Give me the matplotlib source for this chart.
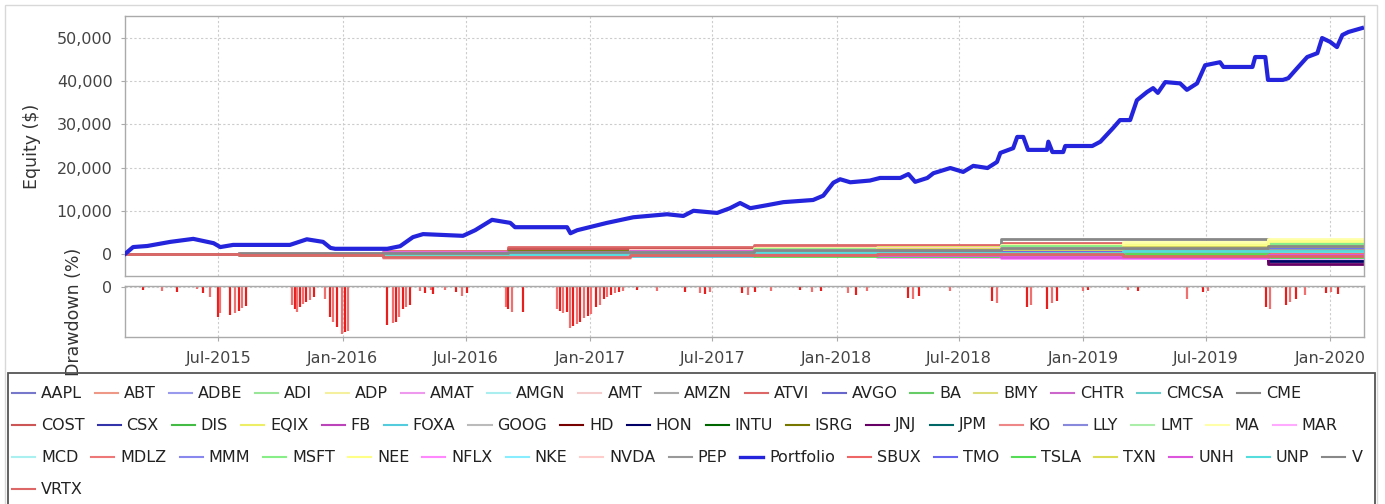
import numpy as np
import pandas as pd
import matplotlib
matplotlib.use("Agg")
import matplotlib.pyplot as plt
import matplotlib.dates as mdates
from matplotlib.lines import Line2D
from matplotlib.patches import Rectangle
from matplotlib.ticker import FuncFormatter

plt.rcParams['font.family'] = ['DejaVu Sans']

# === Данные: портфель ===
portfolio_dates = [
    "2015-02-13", "2015-02-25", "2015-03-18", "2015-04-21", "2015-05-25", "2015-06-24",
    "2015-07-04", "2015-07-23", "2015-10-15", "2015-11-09", "2015-12-03", "2015-12-14",
    "2015-12-21", "2016-03-07", "2016-03-26", "2016-04-14", "2016-04-29", "2016-06-27",
    "2016-07-15", "2016-08-09", "2016-09-05", "2016-09-12", "2016-11-28", "2016-12-03",
    "2016-12-13", "2017-01-26", "2017-03-06", "2017-04-25", "2017-05-19", "2017-06-03",
    "2017-07-08", "2017-07-27", "2017-08-11", "2017-08-26", "2017-09-20", "2017-10-14",
    "2017-11-27", "2017-12-12", "2017-12-27", "2018-01-06", "2018-01-21", "2018-02-19",
    "2018-03-06", "2018-04-05", "2018-04-17", "2018-04-27", "2018-05-15", "2018-05-24",
    "2018-06-18", "2018-07-07", "2018-07-22", "2018-08-12", "2018-08-26", "2018-08-31",
    "2018-09-19", "2018-09-25", "2018-10-04", "2018-10-11", "2018-11-08", "2018-11-10",
    "2018-11-16", "2018-12-02", "2018-12-05", "2019-01-14", "2019-01-26", "2019-02-14",
    "2019-02-24", "2019-03-11", "2019-03-21", "2019-04-05", "2019-04-14", "2019-04-21",
    "2019-05-02", "2019-05-24", "2019-06-03", "2019-06-18", "2019-06-30", "2019-07-22",
    "2019-07-27", "2019-09-08", "2019-09-12", "2019-09-27", "2019-10-01", "2019-10-23",
    "2019-10-31", "2019-11-13", "2019-11-28", "2019-12-13", "2019-12-20", "2020-01-01",
    "2020-01-11", "2020-01-19", "2020-01-28", "2020-02-17",
]
portfolio_values = [
    0, 1600, 1850, 2800, 3500, 2500,
    1600, 2100, 2100, 3400, 2800, 1400,
    1200, 1200, 1800, 3900, 4600, 4200,
    5500, 7900, 7200, 6200, 6200, 4800,
    5500, 7200, 8500, 9200, 8800, 10000,
    9500, 10600, 11800, 10600, 11300, 12000,
    12500, 13500, 16500, 17300, 16600, 17000,
    17600, 17600, 18500, 16700, 17600, 18700,
    19900, 19000, 20400, 19900, 21300, 23400,
    24500, 27100, 27100, 24100, 24100, 26000,
    23600, 23600, 25000, 25000, 26000, 29200,
    31000, 31000, 35600, 37500, 38400, 37300,
    39800, 39500, 38000, 39500, 43700, 44400,
    43300, 43300, 45600, 45600, 40300, 40300,
    40700, 43000, 45600, 46500, 50000, 49100,
    47900, 50700, 51400, 52300,
]

# === Данные: отдельные акции (ступенчатые кривые) ===
stock_dates = ["2015-02-13", "2015-08-01", "2016-03-01", "2016-09-01", "2017-03-01",
               "2017-09-01", "2018-03-01", "2018-09-01", "2019-03-01", "2019-10-01",
               "2020-02-20"]
aapl = [0, 200, 400, 400, 600, 600, 900, 1200, 1200, 1800, 1800]
abt = [0, 0, 300, 300, 500, 800, 800, 1000, 1300, 1300, 1300]
adbe = [0, 100, 100, 400, 700, 700, 1100, 1500, 1500, 2100, 2100]
adi = [0, -100, -300, -300, 0, 200, 200, -200, -200, 300, 300]
adp = [0, 200, 200, 600, 600, 1000, 1000, 1400, 1400, 1400, 1400]
amat = [0, -200, -500, 100, 600, 600, 300, -300, -300, 200, 200]
amgn = [0, 100, -200, -200, 200, 200, -300, -300, -800, -800, -800]
amt = [0, 0, -900, -900, -300, -300, 200, 200, 700, 700, 700]
amzn = [0, 300, 300, 500, 900, 900, 1700, 1700, 1200, 1200, 1200]
atvi = [0, 300, 600, 1600, 1600, 2100, 2100, 2500, 1700, 900, 900]
avgo = [0, 100, -300, 200, 700, 700, 1300, 1300, 1900, 1900, 1900]
ba = [0, 200, 200, 0, 500, 1100, 1100, 600, 600, 1000, 1000]
bmy = [0, 0, 200, 200, -100, -100, 400, 400, 800, 1500, 1500]
chtr = [0, -100, -100, 300, 300, -200, -200, -700, -700, 0, 0]
cmcsa = [0, 100, 300, 300, 700, 700, 700, 1100, 1100, 1600, 1600]
cme = [0, 0, 400, 400, 800, 800, 1500, 3500, 3500, 2700, 2700]
cost = [0, 0, 200, 1200, 1200, 1400, 1400, 1900, 1900, 2300, 2300]
csx = [0, -100, -400, -400, 100, 500, 500, 900, 900, 600, 600]
dis = [0, 200, 0, 0, -300, -300, 200, 200, 500, 500, 500]
eqix = [0, 100, 500, 500, 1000, 1000, 1600, 1600, 2200, 3200, 3200]
fb = [0, 0, 0, 500, 500, 700, -300, -800, -900, -500, -500]
foxa = [0, -200, -200, -500, -500, -100, -100, -600, -600, -1100, -1100]
goog = [0, 200, 200, 600, 600, 900, 900, 700, 700, 1200, 1200]
hd = [0, 100, 300, 300, 800, 800, 1200, 1200, 1700, 1700, 1700]
hon = [0, 0, -200, -200, 200, 200, 500, 500, 500, -1600, -1600]
intu = [0, 100, 100, 400, 400, 800, 800, 1300, 1300, 2000, 2000]
isrg = [0, 0, 300, 700, 700, 1200, 1200, 1800, 1800, 2200, 2200]
jnj = [0, -100, -100, -300, -300, 0, 0, -400, -400, -2300, -2300]
jpm = [0, 200, 200, 500, 500, 900, 900, 1600, 1600, 2500, 2500]
ko = [0, 0, -200, -200, 0, 0, 300, 300, -200, -200, -200]
lly = [0, 100, 100, -200, -200, 300, 300, 600, 600, 1100, 1100]
lmt = [0, 200, 500, 500, 900, 900, 1400, 1400, 2000, 2000, 2000]
ma = [0, 100, 400, 400, 900, 1300, 1300, 2000, 2800, 3500, 3500]
mar = [0, 0, -300, -300, 100, 100, -500, -500, -1000, -1000, -1000]
mcd = [0, 100, 100, 300, 300, 600, 600, 1000, 1000, 1300, 1300]
mdlz = [0, -100, -100, 100, 100, -300, -300, 0, 0, 400, 400]
mmm = [0, 200, 200, 500, 800, 800, 400, 400, -100, -100, -100]
msft = [0, 100, 300, 300, 800, 1200, 1200, 1800, 1800, 2600, 2600]
nee = [0, 0, 300, 300, 700, 700, 1200, 1200, 2000, 3000, 3000]
nflx = [0, 200, -400, -400, 300, 300, -600, -1000, -1000, -700, -700]
nke = [0, 100, 100, -100, -100, 200, 200, -100, -100, 500, 500]
nvda = [0, 300, -600, 200, 900, 900, 1400, 1400, 300, 300, 300]
pep = [0, 0, 200, 200, 400, 400, 600, 600, 900, 900, 900]
sbux = [0, -100, -100, 300, 300, 0, 0, 400, 400, 100, 100]
tmo = [0, 100, 300, 300, 600, 600, 1000, 1000, 1500, 1500, 1500]
tsla = [0, -300, -300, 200, 200, -400, -400, 100, 100, -600, -600]
txn = [0, 100, 100, 400, 600, 600, 1100, 1100, 1500, 1900, 1900]
unh = [0, 100, 400, 400, 700, 700, -200, -800, -800, -300, -300]
unp = [0, -100, -100, 100, 400, 400, 200, 200, 600, 600, 600]
v = [0, 200, 200, 500, 500, 900, 900, 1400, 1400, 1900, 1900]
vrtx = [0, -200, -700, -700, -300, -300, 100, 100, -400, -400, -400]

legend_names = ["AAPL", "ABT", "ADBE", "ADI", "ADP", "AMAT", "AMGN", "AMT", "AMZN", "ATVI",
                "AVGO", "BA", "BMY", "CHTR", "CMCSA", "CME", "COST", "CSX", "DIS", "EQIX",
                "FB", "FOXA", "GOOG", "HD", "HON", "INTU", "ISRG", "JNJ", "JPM", "KO", "LLY",
                "LMT", "MA", "MAR", "MCD", "MDLZ", "MMM", "MSFT", "NEE", "NFLX", "NKE",
                "NVDA", "PEP", "Portfolio", "SBUX", "TMO", "TSLA", "TXN", "UNH", "UNP", "V",
                "VRTX"]
stock_series = {
    "AAPL": aapl, "ABT": abt, "ADBE": adbe, "ADI": adi, "ADP": adp, "AMAT": amat,
    "AMGN": amgn, "AMT": amt, "AMZN": amzn, "ATVI": atvi, "AVGO": avgo, "BA": ba,
    "BMY": bmy, "CHTR": chtr, "CMCSA": cmcsa, "CME": cme, "COST": cost, "CSX": csx,
    "DIS": dis, "EQIX": eqix, "FB": fb, "FOXA": foxa, "GOOG": goog, "HD": hd, "HON": hon,
    "INTU": intu, "ISRG": isrg, "JNJ": jnj, "JPM": jpm, "KO": ko, "LLY": lly, "LMT": lmt,
    "MA": ma, "MAR": mar, "MCD": mcd, "MDLZ": mdlz, "MMM": mmm, "MSFT": msft, "NEE": nee,
    "NFLX": nflx, "NKE": nke, "NVDA": nvda, "PEP": pep, "SBUX": sbux, "TMO": tmo,
    "TSLA": tsla, "TXN": txn, "UNH": unh, "UNP": unp, "V": v, "VRTX": vrtx,
}
colors = {
    "AAPL": "#7777cc", "ABT": "#ee9988", "ADBE": "#9999ee", "ADI": "#99e699",
    "ADP": "#f5f0a0", "AMAT": "#ee99ee", "AMGN": "#aaeef0", "AMT": "#f5cccc",
    "AMZN": "#aaaaaa", "ATVI": "#dd6666", "AVGO": "#6666cc", "BA": "#66cc66",
    "BMY": "#dddd77", "CHTR": "#cc66cc", "CMCSA": "#66cccc", "CME": "#888888",
    "COST": "#cc5555", "CSX": "#3333aa", "DIS": "#44bb44", "EQIX": "#eeee66",
    "FB": "#bb44bb", "FOXA": "#55ccdd", "GOOG": "#bbbbbb", "HD": "#770000",
    "HON": "#000066", "INTU": "#006600", "ISRG": "#777700", "JNJ": "#660066",
    "JPM": "#006666", "KO": "#ee8888", "LLY": "#8888dd", "LMT": "#aaeeaa",
    "MA": "#ffffaa", "MAR": "#ffaaff", "MCD": "#aaf0f0", "MDLZ": "#ee7777",
    "MMM": "#8888ee", "MSFT": "#88ee88", "NEE": "#ffff88", "NFLX": "#ff88ff",
    "NKE": "#88eeff", "NVDA": "#ffcccc", "PEP": "#999999", "Portfolio": "#2424dd",
    "SBUX": "#ee6666", "TMO": "#6666ee", "TSLA": "#55dd55", "TXN": "#dddd55",
    "UNH": "#dd55dd", "UNP": "#55dddd", "V": "#888888", "VRTX": "#dd6666",
}

# === Данные: просадка (%) ===
dd_dates = [
    "2015-03-12", "2015-04-09", "2015-05-01", "2015-05-31", "2015-06-09", "2015-06-19",
    "2015-07-01", "2015-07-04", "2015-07-19", "2015-07-25", "2015-07-31", "2015-08-05",
    "2015-08-11", "2015-10-18", "2015-10-23", "2015-10-26", "2015-10-30", "2015-11-04",
    "2015-11-08", "2015-11-14", "2015-11-19", "2015-12-06", "2015-12-14", "2015-12-18",
    "2015-12-24", "2015-12-31", "2016-01-05", "2016-01-09", "2016-03-07", "2016-03-16",
    "2016-03-20", "2016-03-25", "2016-03-31", "2016-04-04", "2016-04-10", "2016-04-25",
    "2016-05-02", "2016-05-10", "2016-05-14", "2016-06-01", "2016-06-16", "2016-06-26",
    "2016-07-03", "2016-08-29", "2016-09-02", "2016-09-08", "2016-09-24", "2016-11-13",
    "2016-11-18", "2016-11-22", "2016-11-28", "2016-12-03", "2016-12-07", "2016-12-12",
    "2016-12-17", "2016-12-23", "2016-12-29", "2017-01-03", "2017-01-10", "2017-01-15",
    "2017-01-22", "2017-01-26", "2017-02-01", "2017-02-07", "2017-02-13", "2017-02-19",
    "2017-03-12", "2017-04-10", "2017-05-22", "2017-06-13", "2017-06-20", "2017-06-28",
    "2017-08-14", "2017-08-23", "2017-09-02", "2017-09-25", "2017-11-08", "2017-11-26",
    "2017-12-08", "2018-01-18", "2018-01-30", "2018-02-14", "2018-04-17", "2018-04-24",
    "2018-05-02", "2018-06-18", "2018-08-19", "2018-08-26", "2018-10-10", "2018-10-16",
    "2018-11-08", "2018-11-16", "2018-11-23", "2019-01-01", "2019-01-08", "2019-03-08",
    "2019-03-23", "2019-06-03", "2019-06-27", "2019-07-04", "2019-09-28", "2019-10-04",
    "2019-10-28", "2019-11-03", "2019-11-12", "2019-11-25", "2019-12-26", "2020-01-02",
    "2020-01-13",
]
dd_values = [
    -3, -4, -5, -2, -6, -10,
    -30, -26, -28, -26, -24, -21,
    -19, -18, -22, -25, -20, -17,
    -15, -13, -10, -12, -30, -35,
    -40, -47, -45, -44, -38, -36,
    -35, -30, -22, -20, -18, -4,
    -6, -3, -7, -3, -5, -9,
    -6, -20, -22, -25, -25, -22,
    -24, -26, -25, -41, -39, -37,
    -35, -31, -29, -27, -20, -18,
    -12, -10, -8, -6, -5, -4,
    -3, -4, -5, -6, -7, -5,
    -6, -8, -5, -4, -3, -5,
    -4, -6, -8, -4, -11, -12,
    -9, -4, -14, -16, -20, -18,
    -22, -16, -14, -4, -3, -3,
    -4, -12, -5, -4, -20, -22,
    -18, -15, -12, -8, -6, -5,
    -7,
]

W, H = 1385, 504
fig = plt.figure(figsize=(W / 100, H / 100), dpi=100)
fig.patch.set_facecolor('white')

# внешняя рамка
fig.add_artist(Rectangle((5 / W, -0.01), (1377 - 5) / W, 1 - 5 / H + 0.01,
                         transform=fig.transFigure, fill=False,
                         edgecolor='#d8d8d8', lw=1.0))

ax = fig.add_axes([125 / W, 1 - 276 / H, 1239 / W, 260 / H])
ax_dd = fig.add_axes([125 / W, 1 - 337 / H, 1239 / W, 51 / H], sharex=ax)

s_dates = pd.to_datetime(stock_dates)
for name in legend_names:
    if name == "Portfolio":
        continue
    ax.step(s_dates, stock_series[name], where='post', color=colors[name], lw=2.0, zorder=2)
ax.plot(pd.to_datetime(portfolio_dates), portfolio_values, color=colors["Portfolio"],
        lw=3.0, zorder=3, solid_joinstyle='round')

d_dates = pd.to_datetime(dd_dates)
dd_colors = ['#e61e1e' if i % 2 == 0 else '#f07070' for i in range(len(dd_values))]
ax_dd.vlines(d_dates, 0, dd_values, colors=dd_colors, lw=1.6)

ax.set_xlim(pd.Timestamp("2015-02-13"), pd.Timestamp("2020-02-20"))
ax.set_ylim(-5100, 55100)
ax.set_yticks([0, 10000, 20000, 30000, 40000, 50000])
ax.yaxis.set_major_formatter(FuncFormatter(lambda val, pos: f'{val:,.0f}'))
ax_dd.set_ylim(-50, 1)
ax_dd.set_yticks([0])

ax_dd.xaxis.set_major_locator(mdates.MonthLocator(bymonth=[1, 7]))
ax_dd.xaxis.set_major_formatter(mdates.DateFormatter('%b-%Y'))

for a in (ax, ax_dd):
    a.grid(True, color='#cccccc', ls=(0, (2, 2)), lw=0.8)
    for sp in a.spines.values():
        sp.set_color('#aaaaaa')
        sp.set_linewidth(1.0)
    a.tick_params(axis='both', length=3, color='#aaaaaa', labelsize=11.5,
                  labelcolor='#444444', pad=6)
ax.tick_params(axis='x', length=0, labelbottom=False)
ax_dd.tick_params(axis='x', pad=7)

ax.set_ylabel('Equity ($)', fontsize=12.5, color='#333333')
ax.yaxis.set_label_coords(-0.068, 0.5)
ax_dd.set_ylabel('Drawdown (%)', fontsize=12.5, color='#333333', zorder=7)
ax_dd.yaxis.set_label_coords(-0.034, 0.5)

# === Легенда (построчная раскладка, как в исходнике) ===
fig.add_artist(Rectangle((8 / W, -0.01), (1375 - 8) / W, 1 - 373 / H + 0.01,
                         transform=fig.transFigure, facecolor='none',
                         edgecolor='#555555', lw=1.3, zorder=5))
renderer = fig.canvas.get_renderer()
line_len, gap_in, gap_out = 23, 6, 13
x, row = 12, 0
for name in legend_names:
    t = fig.text(0, 0, name, fontsize=11.5, color='#222222', va='center', ha='left', zorder=6)
    w = t.get_window_extent(renderer).width
    item_w = line_len + gap_in + w + gap_out
    if x + item_w - gap_out > 1372:
        x, row = 12, row + 1
    y = 1 - (393 + 32 * row) / H
    fig.add_artist(Line2D([x / W, (x + line_len) / W], [y, y], color=colors[name],
                          lw=2.4 if name == "Portfolio" else 1.5, zorder=6))
    t.set_position(((x + line_len + gap_in) / W, y))
    x += item_w

fig.savefig('out.png', dpi=100)
